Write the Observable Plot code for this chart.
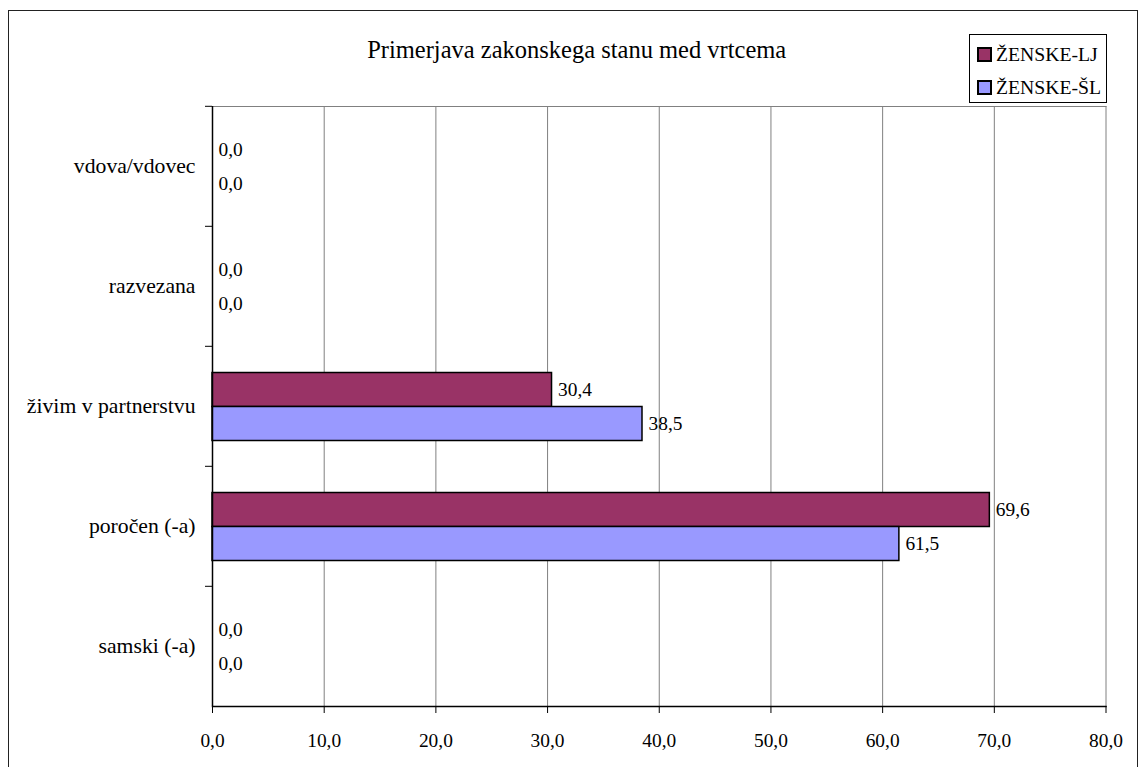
<!DOCTYPE html>
<html>
<head>
<meta charset="utf-8">
<script src="https://cdn.jsdelivr.net/npm/d3@7"></script>
<script src="https://cdn.jsdelivr.net/npm/@observablehq/plot@0.6"></script>
<style>
  html, body { margin: 0; padding: 0; background: #fff; overflow: hidden; }
  #chart { position: relative; width: 1142px; height: 767px; font-family: "Liberation Serif", "Times New Roman", serif; color: #000; }
  #chart > svg { position: absolute; left: 0; top: 0; }
  #frame { position: absolute; left: 8px; top: 10px; width: 1130px; height: 800px; border: 1.5px solid #222; box-sizing: border-box; pointer-events: none; }
  #title { position: absolute; left: 576.7px; top: 37.5px; transform: translateX(-50%); font-size: 24.5px; line-height: 24.5px; white-space: nowrap; }
  #legend { position: absolute; left: 969px; top: 34px; width: 138px; height: 69px; border: 1px solid #000; box-sizing: border-box; background: #fff; padding: 2.5px 0 0 8px; }
  #legend .lg-swatches { font-family: "Liberation Serif", "Times New Roman", serif; font-size: 19.7px; margin: 0; columns: auto !important; display: flex; flex-direction: column; }
  #legend .lg-swatch { display: flex; align-items: center; height: 33.4px; padding: 0; margin: 0; }
  #legend .lg-swatch svg { position: static; margin-right: 5px; overflow: visible; flex-shrink: 0; }
  #legend .lg-swatch svg rect { stroke: #000; stroke-width: 2px; }
  #legend .lg-swatch-label { overflow: visible; color: #000; }
</style>
</head>
<body>
<div id="chart">
  <div id="title">Primerjava zakonskega stanu med vrtcema</div>
</div>
<script>
// Marital status, top to bottom as listed on the vertical axis
const categories = ["vdova/vdovec", "razvezana", "živim v partnerstvu", "poročen (-a)", "samski (-a)"];
const seriesNames = ["ŽENSKE-LJ", "ŽENSKE-ŠL"];
const valuesLJ = [0.0, 0.0, 30.4, 69.6, 0.0];
const valuesSL = [0.0, 0.0, 38.5, 61.5, 0.0];
const xTicks = [0, 10, 20, 30, 40, 50, 60, 70, 80];
const seriesColors = ["#993366", "#9999FF"];

// Long table: one row per category and series
const rows = categories.flatMap((c, i) => [
  {category: c, series: seriesNames[0], value: valuesLJ[i]},
  {category: c, series: seriesNames[1], value: valuesSL[i]}
]);

const W = 1142, H = 767;
const mTop = 104.5, mBottom = 60.5, mLeft = 212, mRight = 36.5;
const bandH = (H - mTop - mBottom) / categories.length;
const fmt = v => v.toFixed(1).replace(".", ",");
const font = '"Liberation Serif", "Times New Roman", serif';

const chart = Plot.plot({
  width: W,
  height: H,
  marginTop: mTop,
  marginBottom: mBottom,
  marginLeft: mLeft,
  marginRight: mRight,
  style: {fontFamily: font, fontSize: "19.4px", color: "#000", background: "#fff"},
  x: {domain: [0, 80]},
  y: {domain: seriesNames, paddingInner: 0, paddingOuter: 0.75, axis: null},
  fy: {domain: categories, padding: 0, axis: null},
  color: {domain: seriesNames, range: seriesColors},
  marks: [
    Plot.gridX(xTicks, {stroke: "#808080", strokeOpacity: 1, strokeWidth: 1}),
    Plot.frame({anchor: "top", stroke: "#808080", strokeWidth: 1, facet: "super"}),
    Plot.barX(rows, {fy: "category", y: "series", x: "value", fill: "series", stroke: "#000", strokeWidth: 1.5}),
    Plot.text(rows, {fy: "category", y: "series", x: "value", text: d => fmt(d.value), textAnchor: "start", dx: 6, fill: "#000"}),
    Plot.ruleX([0], {stroke: "#000", strokeWidth: 1.5}),
    Plot.frame({anchor: "bottom", stroke: "#000", strokeWidth: 1.5, facet: "super"}),
    Plot.axisX(xTicks, {anchor: "bottom", tickSize: 7, tickPadding: 20, tickFormat: fmt, stroke: "#000", fill: "#000", label: null}),
    // category names centred in each band
    Plot.axisFy({anchor: "left", tickSize: 0, tickPadding: 17, fill: "#000", fontSize: 21.7, label: null}),
    // tick marks on the band boundaries
    Plot.axisFy({anchor: "left", tickSize: 7, fill: "none", stroke: "#000", dy: -bandH / 2, label: null})
  ]
});

const root = document.getElementById("chart");
root.insertBefore(chart, root.firstChild);

const legendBox = document.createElement("div");
legendBox.id = "legend";
legendBox.appendChild(Plot.legend({
  color: {domain: seriesNames, range: seriesColors},
  legend: "swatches",
  swatchSize: 13,
  columns: 1,
  className: "lg"
}));
root.appendChild(legendBox);

const frame = document.createElement("div");
frame.id = "frame";
root.appendChild(frame);
</script>
</body>
</html>
